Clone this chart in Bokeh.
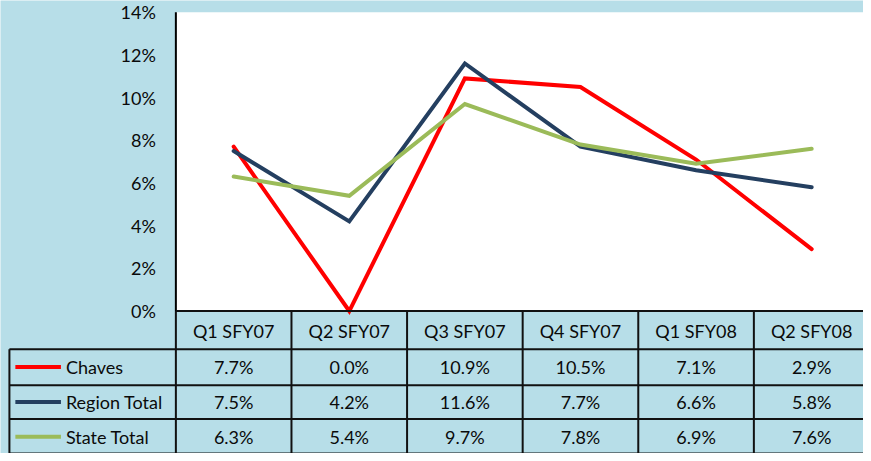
from bokeh.plotting import figure
from bokeh.models import Range1d
from bokeh.core.properties import value
from bokeh.embed import file_html
from bokeh.resources import INLINE

# ---- data ----
quarters = ["Q1 SFY07", "Q2 SFY07", "Q3 SFY07", "Q4 SFY07", "Q1 SFY08", "Q2 SFY08"]
series_names = ["Chaves", "Region Total", "State Total"]
chaves = [7.7, 0.0, 10.9, 10.5, 7.1, 2.9]
region_total = [7.5, 4.2, 11.6, 7.7, 6.6, 5.8]
state_total = [6.3, 5.4, 9.7, 7.8, 6.9, 7.6]
y_ticks = [0, 2, 4, 6, 8, 10, 12, 14]

colors = ["#ff0000", "#243f60", "#9bbb59"]
BG = "#b7dee8"
FONT = value("Lato")
FS = "18px"
TXT = "#0a0a0a"

# ---- layout geometry (reference picture pixels) ----
REF_W, REF_H = 871, 461
W, H = 863, 453
PLOT_LEFT = 177.0
COL_W = 116.67
ZERO_Y = 316.0
PX_PER_UNIT = 304.0 / 14.0

def dx(px):
    return (px - PLOT_LEFT) / COL_W

def dy(py):
    return (ZERO_Y - py) / PX_PER_UNIT

p = figure(width=W, height=H, output_backend="svg", toolbar_location=None,
           x_range=Range1d(dx(0), dx(REF_W)),
           y_range=Range1d(dy(REF_H), dy(0)),
           x_axis_location=None, y_axis_location=None,
           min_border=0, background_fill_color=BG, border_fill_color=BG,
           outline_line_color=None)
p.grid.visible = False

n = len(quarters)
ymax = y_ticks[-1]

# plot area
p.quad(left=[0], right=[n], bottom=[0], top=[ymax], fill_color="white", line_color=None)

# series lines
xs = [i + 0.5 for i in range(n)]
for vals, c in zip([chaves, region_total, state_total], colors):
    p.line(xs, vals, line_color=c, line_width=4, line_join="miter", line_cap="round")

# axis lines
p.segment(x0=[0], y0=[0], x1=[0], y1=[ymax], line_color="black", line_width=2)
p.segment(x0=[0], y0=[0], x1=[n], y1=[0], line_color="black", line_width=2)

# y tick labels
p.text(x=[0] * len(y_ticks), y=y_ticks, text=[f"{t}%" for t in y_ticks],
       x_offset=-20, text_align="right", text_baseline="middle",
       text_font=FONT, text_font_size=FS, text_color=TXT)

# ---- data table ----
row_edges = [316, 355, 391.5, 426, 461]
row_mid = [336.5, 373, 408.5, 444]
left_px = 9

hx0, hy0, hx1, hy1 = [0], [dy(row_edges[0])], [n], [dy(row_edges[0])]
for e in row_edges[1:]:
    hx0.append(dx(left_px)); hx1.append(n); hy0.append(dy(e)); hy1.append(dy(e))
p.segment(x0=hx0, y0=hy0, x1=hx1, y1=hy1, line_color="#111111", line_width=2)

vx = list(range(n + 1))
p.segment(x0=vx, y0=[dy(row_edges[0])] * len(vx), x1=vx, y1=[dy(row_edges[-1])] * len(vx),
          line_color="#111111", line_width=2)
p.segment(x0=[dx(left_px)], y0=[dy(row_edges[1])], x1=[dx(left_px)], y1=[dy(row_edges[-1])],
          line_color="#111111", line_width=2)

p.text(x=xs, y=[dy(row_mid[0])] * n, text=quarters, text_align="center",
       text_baseline="middle", text_font=FONT, text_font_size=FS, text_color=TXT)

for r, (name, vals, c) in enumerate(zip(series_names, [chaves, region_total, state_total], colors)):
    ym = dy(row_mid[r + 1])
    p.segment(x0=[dx(15)], y0=[ym], x1=[dx(61)], y1=[ym], line_color=c, line_width=4)
    p.text(x=[dx(66)], y=[ym], text=[name], text_align="left", text_baseline="middle",
           text_font=FONT, text_font_size=FS, text_color=TXT)
    p.text(x=xs, y=[ym] * n, text=[f"{v:.1f}%" for v in vals], text_align="center",
           text_baseline="middle", text_font=FONT, text_font_size=FS, text_color=TXT)

open("out.html", "w").write(file_html(p, INLINE))
